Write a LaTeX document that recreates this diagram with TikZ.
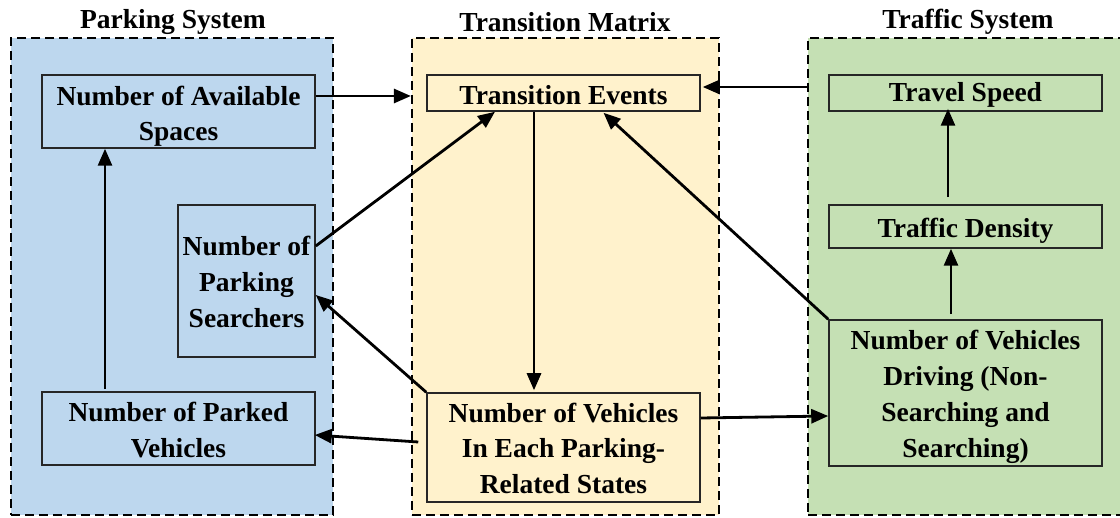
\documentclass[tikz,border=0pt]{standalone}
\usepackage{fontspec}
\setmainfont{Liberation Serif}
\usetikzlibrary{arrows.meta}
\definecolor{pblue}{HTML}{BDD7EE}
\definecolor{pyellow}{HTML}{FFF2CC}
\definecolor{pgreen}{HTML}{C5E0B4}
\newcommand\fl[1]{\rule{0pt}{#1pt}}
\begin{document}
\begin{tikzpicture}[x=1pt,y=-1pt,
  panel/.style={draw=black,line width=2.2pt,dash pattern=on 9pt off 5pt,inner sep=0pt,minimum height=477pt},
  box/.style={draw=black!85,line width=1.5pt,inner sep=0pt,align=center,
    font=\fontsize{27.5}{35.8}\selectfont\bfseries},
  title/.style={font=\fontsize{27.5}{30}\selectfont\bfseries},
  arr/.style={line width=2.8pt,-{Triangle[length=17pt,width=14pt]}}]
\useasboundingbox (0,0) rectangle (1120,518);
% panels
\node[panel,fill=pblue,minimum width=322pt] (ppanel) at (172,276.5) {};
\node[panel,fill=pyellow,minimum width=307pt] (tpanel) at (565.5,276.5) {};
\node[panel,fill=pgreen,minimum width=327pt] (fpanel) at (971.5,276.5) {};
% titles
\node[title] (pt) at (173,22) {Parking System};
\node[title] (tt) at (565,22) {Transition Matrix};
\node[title] (ft) at (968,22) {Traffic System};
% boxes
\node[box,minimum width=273pt,minimum height=73pt] (avail) at (178.5,111.5) {\fl{29}Number of Available\\Spaces};
\node[box,minimum width=137pt,minimum height=152pt] (search) at (246.5,281) {\fl{21}Number of\\Parking\\Searchers};
\node[box,minimum width=273pt,minimum height=73pt] (parked) at (178.5,428.5) {\fl{23}Number of Parked\\Vehicles};
\node[box,minimum width=273pt,minimum height=36pt] (events) at (563.5,93) {\fl{23}Transition Events};
\node[box,minimum width=273pt,minimum height=109pt] (vehs) at (563.5,447.5) {\fl{21}Number of Vehicles\\In Each Parking-\\Related States};
\node[box,minimum width=273pt,minimum height=36pt] (speed) at (965.5,93) {\fl{23}Travel Speed};
\node[box,minimum width=273pt,minimum height=43pt] (density) at (965.5,226.5) {\fl{28}Traffic Density};
\node[box,minimum width=273pt,minimum height=146pt] (driving) at (965.5,393) {\fl{27}Number of Vehicles\\Driving (Non-\\Searching and\\Searching)};
% connectors
\draw[arr] ([yshift=15.5pt]avail.east) -- ([yshift=15.5pt]avail.east -| tpanel.west);
\draw[arr] ([yshift=6pt]events.east -| fpanel.west) -- ([yshift=6pt,xshift=2pt]events.east);
\draw[arr] ([yshift=35pt]search.east) -- ([xshift=-68.5pt]events.south);
\draw[arr] ([xshift=-29.5pt]events.south) -- ([xshift=-29.5pt,yshift=2pt]vehs.north);
\draw[arr] ([yshift=29.5pt]vehs.east) -- ([yshift=-23pt]driving.west);
\draw[arr] (vehs.north west) -- ([yshift=-14pt]search.east);
\draw[arr] ([xshift=-8pt,yshift=5.5pt]vehs.west) -- ([yshift=-6.5pt,xshift=-1pt]parked.east);
\draw[arr] (driving.north west) -- ([xshift=40pt,yshift=-1pt]events.south);
\draw[arr] ([xshift=-73.5pt,yshift=2pt]parked.north) -- ([xshift=-73.5pt]avail.south);
\draw[arr] ([xshift=-17.5pt,yshift=7pt]density.north) -- ([xshift=-17.5pt,yshift=3pt]speed.south);
\draw[arr] ([xshift=-14.5pt,yshift=5pt]driving.north) -- ([xshift=-14.5pt]density.south);
\end{tikzpicture}
\end{document}
